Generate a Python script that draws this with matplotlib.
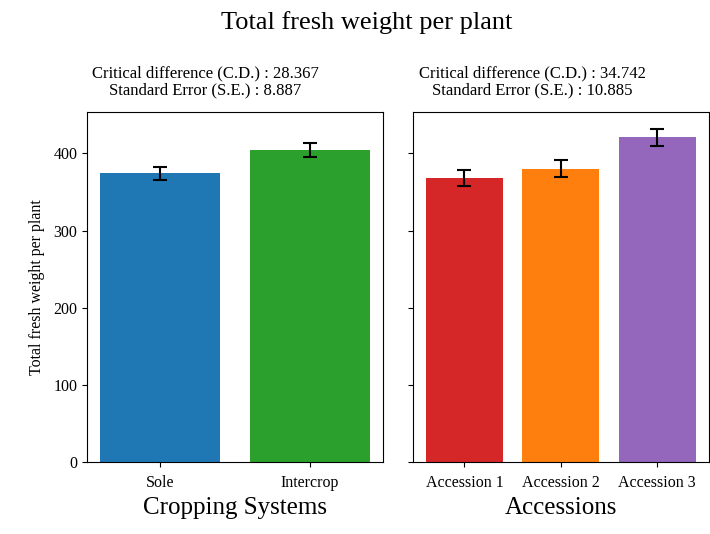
import matplotlib
matplotlib.use('Agg')
import matplotlib.pyplot as plt

plt.rcParams['font.family'] = ['Liberation Serif', 'DejaVu Serif']

# Cropping systems
crop_names = ['Sole', 'Intercrop']
crop_means = [374, 404]
crop_se = 8.887
crop_cd = 28.367
crop_colors = ['#1f77b4', '#2ca02c']

# Accessions
acc_names = ['Accession 1', 'Accession 2', 'Accession 3']
acc_means = [368, 380, 421]
acc_se = 10.885
acc_cd = 34.742
acc_colors = ['#d62728', '#ff7f0e', '#9467bd']

fig, (ax1, ax2) = plt.subplots(1, 2, figsize=(7.1, 5.34), dpi=100, sharey=True)
fig.subplots_adjust(left=0.1225, right=0.9986, top=0.79, bottom=0.135, wspace=0.098)

ax1.bar(crop_names, crop_means, color=crop_colors, yerr=crop_se, capsize=5,
        error_kw={'elinewidth': 1.5, 'capthick': 1.5})
ax1.text(0.40, 1.04, f'Critical difference (C.D.) : {crop_cd}\nStandard Error (S.E.) : {crop_se}',
         transform=ax1.transAxes, ha='center', va='bottom', fontsize=12, linespacing=1.05)
ax1.set_xlabel('Cropping Systems', fontsize=18)
ax1.set_ylabel('Total fresh weight per plant', fontsize=11.5, labelpad=6)

ax2.bar(acc_names, acc_means, color=acc_colors, yerr=acc_se, capsize=5,
        error_kw={'elinewidth': 1.5, 'capthick': 1.5})
ax2.text(0.405, 1.04, f'Critical difference (C.D.) : {acc_cd}\nStandard Error (S.E.) : {acc_se}',
         transform=ax2.transAxes, ha='center', va='bottom', fontsize=12, linespacing=1.05)
ax2.set_xlabel('Accessions', fontsize=18)

for ax in (ax1, ax2):
    ax.tick_params(labelsize=11.5)
    ax.tick_params(axis='x', pad=6)
    ax.xaxis.labelpad = 4

fig.suptitle('Total fresh weight per plant', fontsize=19, x=0.517, y=0.98)

plt.savefig('out.png')
